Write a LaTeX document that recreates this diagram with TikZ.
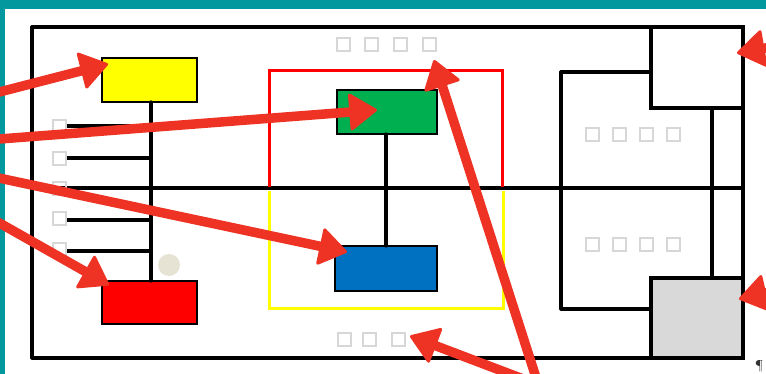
\documentclass[tikz,border=0pt]{standalone}
\usetikzlibrary{arrows.meta}
\definecolor{teal1}{RGB}{3,152,158}
\definecolor{arrowred}{RGB}{238,50,36}
\definecolor{sqgray}{RGB}{215,215,215}
\definecolor{beige}{RGB}{230,226,212}
\definecolor{boxgray}{RGB}{217,217,217}
\definecolor{yel}{RGB}{255,255,0}
\definecolor{grn}{RGB}{0,176,80}
\definecolor{blu}{RGB}{0,112,192}
\tikzset{
  blk/.style={line width=3.2pt, line cap=round, line join=round},
  colbox/.style={draw=black, line width=2.8pt, inner sep=0pt, outer sep=0pt, anchor=north west},
  sq/.style={draw=sqgray, line width=2pt, minimum width=13pt, minimum height=13pt, inner sep=0pt},
  redarrow/.style={draw=arrowred, line width=9.5pt, -{Triangle[length=29pt,width=39pt,round,line width=3pt]}},
}
\begin{document}
\begin{tikzpicture}[x=1pt,y=-1pt]
\useasboundingbox (0,0) rectangle (766,374);
\clip (0,0) rectangle (766,374);
\fill[white] (0,0) rectangle (766,374);
% teal frame
\fill[teal1] (0,0) rectangle (766,9);
\fill[teal1] (0,0) rectangle (5,374);

% outer frame and main line
\draw[blk] (32,27) rectangle (743,358);
\draw[blk] (32,188) -- (743,188);

% colored outline regions
\draw[red, line width=3pt] (269,187) -- (269,71) -- (502,71) -- (502,187);
\draw[yel, line width=3pt] (269,191) -- (269,308) -- (503,308) -- (503,191);

% left tree
\node[colbox, fill=yel, minimum width=95pt, minimum height=44pt] (yb) at (102,58) {};
\node[colbox, fill=red, minimum width=95pt, minimum height=43pt] (rb) at (102,281) {};
\coordinate (stemtop) at (151,102);
\coordinate (stembot) at (151,281);
\draw[blk] (stemtop) -- (stembot);
\foreach \y/\n in {126/1,158/2,220/4,251/5}{
  \coordinate (bl\n) at (67,\y);
  \coordinate (br\n) at (151,\y);
  \draw[blk] (bl\n) -- (br\n);
}
\foreach \y/\n in {127/1,159/2,189/3,219/4,250/5}{
  \node[sq] (ls\n) at (59,\y) {};
}
\fill[beige] (169,265) circle (11);

% centre column
\node[colbox, fill=grn, minimum width=100pt, minimum height=44pt] (gb) at (337,90) {};
\node[colbox, fill=blu, minimum width=102pt, minimum height=45pt] (bb) at (335,246) {};
\draw[blk] (gb.south -| 386,0) -- (bb.north -| 386,0);

% right structure
\node[colbox, fill=white, minimum width=92pt, minimum height=81pt, line width=3.2pt] (wb) at (651,27) {};
\node[colbox, fill=boxgray, minimum width=92pt, minimum height=80pt, line width=3.2pt] (gyb) at (651,278) {};
\draw[blk] (wb.west |- 0,72) -- (561,72) -- (561,309) -- (gyb.west |- 0,309);
\draw[blk] (712,108) -- (712,278);

% small gray squares
\foreach \x/\n in {343/1,371/2,400/3,429/4}{ \node[sq] (ts\n) at (\x,45) {}; }
\foreach \x/\n in {344/1,369/2,398/3}{ \node[sq] (bs\n) at (\x,339) {}; }
\foreach \x/\n in {592/1,619/2,646/3,673/4}{
  \node[sq] (rs\n) at (\x,135) {};
  \node[sq] (rt\n) at (\x,245) {};
}

% pilcrow
\node[text=black!80, inner sep=0pt, font=\fontsize{13}{13}\selectfont] (pil) at (759,366) {\P};

% red arrows
\coordinate (t1) at (-20,97);   \coordinate (h1) at (108,64);
\coordinate (t2) at (-20,140.5);\coordinate (h2) at (377,110);
\coordinate (t3) at (-20,174);  \coordinate (h3) at (347,252);
\coordinate (t4) at (-20,212);  \coordinate (h4) at (109,285);
\coordinate (t5) at (540,390);  \coordinate (h5) at (434,60);
\coordinate (t6) at (560,393);  \coordinate (h6) at (410,336);
\coordinate (t7) at (800,42);   \coordinate (h7) at (737,53);
\coordinate (t8) at (800,285);  \coordinate (h8) at (739,299);
\foreach \n in {1,...,8}{ \draw[redarrow] (t\n) -- (h\n); }
\end{tikzpicture}
\end{document}
